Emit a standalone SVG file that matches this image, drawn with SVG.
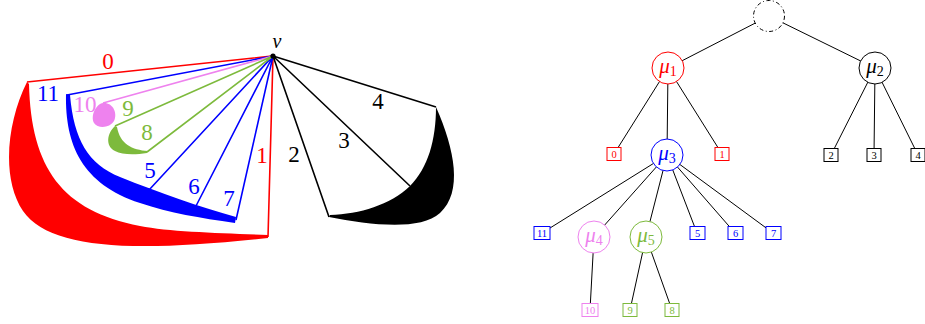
<svg xmlns="http://www.w3.org/2000/svg" width="925" height="324" viewBox="0 0 925 324">
<style>
.ln{fill:none;stroke-width:1.6;stroke-linejoin:miter}
.lab{font-family:"Liberation Serif",serif;font-size:23px;text-anchor:middle}
.e{stroke:#000;stroke-width:1;fill:none}
.nc{fill:#fff;stroke-width:1}
.lf{font-family:"Liberation Serif",serif;font-size:10.5px;text-anchor:middle}
.mu{font-family:"Liberation Serif",serif;font-size:21px;text-anchor:middle}
</style>
<rect width="925" height="324" fill="#fff"/>
<g id="embedding">
  <g id="red-fan">
    <path fill="#ff0000" d="M27,82 C7,122 1,178 23,211 C50,249 130,253 268,238 L268,235 C220,233 170,232 140,226 C62,211 31,168 29,84 Z"/>
    <path class="ln" stroke="#ff0000" d="M27,82 L273,56 L268,237"/>
    <text class="lab" fill="#ff0000" x="108" y="69">0</text>
    <text class="lab" fill="#ff0000" x="262" y="163">1</text>
  </g>
  <g id="blue-fan">
    <path fill="#0000ff" d="M66,94 C65,145 82,184 140,203 C170,213 200,218 235,223 L236,217 C200,207 160,193 120,177 C88,164 74,140 70,95 Z"/>
    <path class="ln" stroke="#0000ff" d="M67,95 L273,56 L236,220 M273,56 L149,190 M273,56 L196,206"/>
    <text class="lab" fill="#0000ff" x="48" y="101">11</text>
    <text class="lab" fill="#0000ff" x="150" y="178">5</text>
    <text class="lab" fill="#0000ff" x="194" y="194">6</text>
    <text class="lab" fill="#0000ff" x="229" y="206">7</text>
  </g>
  <g id="violet-fan">
    <path fill="#ee82ee" d="M103,103 C112,102 118,112 114,121 C110,128 98,129 94,123 C90,116 96,104 103,103 Z"/>
    <path class="ln" stroke="#ee82ee" d="M273,56 L103,103"/>
    <text class="lab" fill="#ee82ee" x="85" y="112">10</text>
  </g>
  <g id="green-fan">
    <path fill="#7dba3c" d="M115,126 C107,133 105,146 115,151 C122,155 135,155 147,153 L148,151 C132,150 120,144 117,127 Z"/>
    <path class="ln" stroke="#7dba3c" d="M115,126 L273,56 L147,152"/>
    <text class="lab" fill="#7dba3c" x="128" y="116">9</text>
    <text class="lab" fill="#7dba3c" x="147" y="140">8</text>
  </g>
  <g id="black-fan">
    <path fill="#000" d="M436,107 C455,150 463,192 440,213 C420,231 370,225 329,217 L330,215 C360,214 390,205 410,186 C428,168 436,140 436,107 Z"/>
    <path class="ln" stroke="#000" d="M273,56 L436,107 M273,56 L410,186 M273,56 L329,217"/>
    <text class="lab" fill="#000" x="294" y="162">2</text>
    <text class="lab" fill="#000" x="344" y="148">3</text>
    <text class="lab" fill="#000" x="378" y="109">4</text>
  </g>
  <g id="v">
    <circle cx="273" cy="56" r="2.6" fill="#000"/>
    <text x="277" y="48" font-family="Liberation Serif, serif" font-size="20" font-style="italic" text-anchor="middle">v</text>
  </g>
</g>
<g id="tree-edges" class="e">
  <path d="M769,16 L668,68 M769,16 L875,68"/>
  <path d="M668,68 L614,154 M668,68 L667,155 M668,68 L722,154"/>
  <path d="M875,68 L831,155 M875,68 L874,155 M875,68 L918,155"/>
  <path d="M667,155 L542,233 M667,155 L594,237 M667,155 L646,237 M667,155 L697,233 M667,155 L735,233 M667,155 L773,233"/>
  <path d="M594,237 L590,310 M646,237 L630,310 M646,237 L672,310"/>
</g>
<g id="root"><circle class="nc" cx="769" cy="16" r="15.5" stroke="#000" stroke-dasharray="4 2.5 1 2.5"/></g>
<g id="mu1"><circle class="nc" cx="668" cy="68" r="16" stroke="#ff0000"/><text class="mu" fill="#ff0000" x="668" y="73"><tspan font-style="italic">μ</tspan><tspan font-size="14" dy="3">1</tspan></text></g>
<g id="mu2"><circle class="nc" cx="875" cy="68" r="16" stroke="#000"/><text class="mu" fill="#000" x="875" y="73"><tspan font-style="italic">μ</tspan><tspan font-size="14" dy="3">2</tspan></text></g>
<g id="mu3"><circle class="nc" cx="667" cy="155" r="16" stroke="#0000ff"/><text class="mu" fill="#0000ff" x="667" y="160"><tspan font-style="italic">μ</tspan><tspan font-size="14" dy="3">3</tspan></text></g>
<g id="mu4"><circle class="nc" cx="594" cy="237" r="16" stroke="#ee82ee"/><text class="mu" fill="#ee82ee" x="594" y="242"><tspan font-style="italic">μ</tspan><tspan font-size="14" dy="3">4</tspan></text></g>
<g id="mu5"><circle class="nc" cx="646" cy="237" r="16" stroke="#7dba3c"/><text class="mu" fill="#7dba3c" x="646" y="242"><tspan font-style="italic">μ</tspan><tspan font-size="14" dy="3">5</tspan></text></g>
<g id="leaf0"><rect class="nc" x="607" y="147.5" width="14" height="13" stroke="#ff0000"/><text class="lf" fill="#ff0000" x="614" y="158">0</text></g>
<g id="leaf1"><rect class="nc" x="715" y="147.5" width="14" height="13" stroke="#ff0000"/><text class="lf" fill="#ff0000" x="722" y="158">1</text></g>
<g id="leaf2"><rect class="nc" x="824" y="148.5" width="14" height="13" stroke="#000"/><text class="lf" fill="#000" x="831" y="159">2</text></g>
<g id="leaf3"><rect class="nc" x="867" y="148.5" width="14" height="13" stroke="#000"/><text class="lf" fill="#000" x="874" y="159">3</text></g>
<g id="leaf4"><rect class="nc" x="911" y="148.5" width="14" height="13" stroke="#000"/><text class="lf" fill="#000" x="918" y="159">4</text></g>
<g id="leaf11"><rect class="nc" x="534" y="226.5" width="16" height="13" stroke="#0000ff"/><text class="lf" fill="#0000ff" x="542" y="237">11</text></g>
<g id="leaf5"><rect class="nc" x="690" y="226.5" width="15" height="13" stroke="#0000ff"/><text class="lf" fill="#0000ff" x="697.5" y="237">5</text></g>
<g id="leaf6"><rect class="nc" x="728" y="226.5" width="15" height="13" stroke="#0000ff"/><text class="lf" fill="#0000ff" x="735.5" y="237">6</text></g>
<g id="leaf7"><rect class="nc" x="766" y="226.5" width="15" height="13" stroke="#0000ff"/><text class="lf" fill="#0000ff" x="773.5" y="237">7</text></g>
<g id="leaf10"><rect class="nc" x="582" y="303.5" width="16" height="13" stroke="#ee82ee"/><text class="lf" fill="#ee82ee" x="590" y="314">10</text></g>
<g id="leaf9"><rect class="nc" x="623" y="303.5" width="14" height="13" stroke="#7dba3c"/><text class="lf" fill="#7dba3c" x="630" y="314">9</text></g>
<g id="leaf8"><rect class="nc" x="665" y="303.5" width="14" height="13" stroke="#7dba3c"/><text class="lf" fill="#7dba3c" x="672" y="314">8</text></g>
</svg>
